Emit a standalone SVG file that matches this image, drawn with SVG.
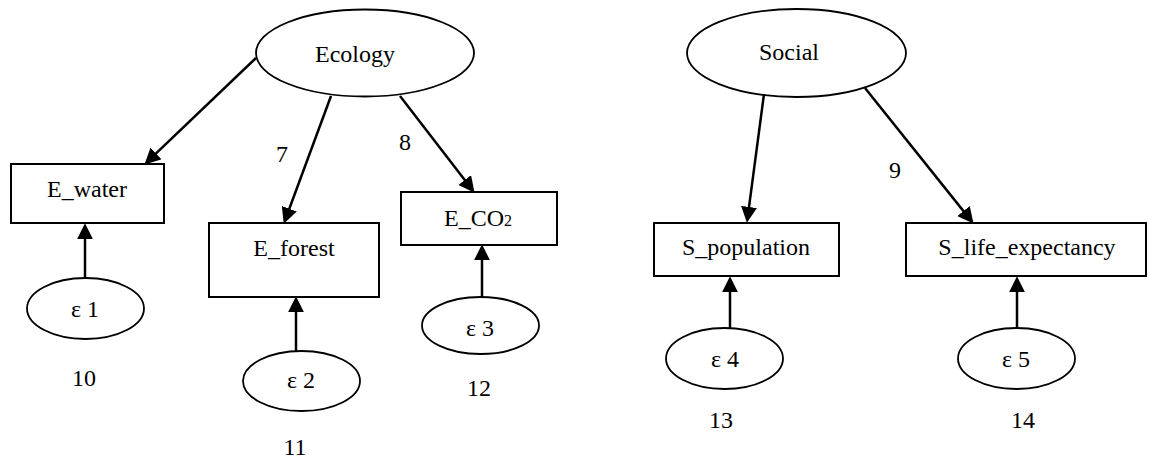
<svg xmlns="http://www.w3.org/2000/svg" width="1149" height="461" viewBox="0 0 1149 461" font-family="Liberation Serif, Times New Roman, DejaVu Serif, serif">
<style>
text{font-family:'Liberation Serif','Times New Roman',Times,'DejaVu Serif',serif;font-size:24px;fill:#000;text-anchor:middle}
.box{fill:#fff;stroke:#000;stroke-width:2}
.ell{fill:#fff;stroke:#000;stroke-width:1.8}
.con line{stroke:#000;stroke-width:2.5;marker-end:url(#ah)}
</style>
<defs>
<marker id="ah" markerUnits="userSpaceOnUse" markerWidth="16" markerHeight="16" viewBox="0 0 15 15" refX="3" refY="7.5" orient="auto">
<path d="M0,0 L15,7.5 L0,15 z" fill="#000"/>
</marker>
</defs>
<rect width="1149" height="461" fill="#fff"/>
<g id="Ecology"><ellipse class="ell" cx="365" cy="53" rx="109" ry="43.5"/><text x="355" y="62">Ecology</text></g>
<g id="Social"><ellipse class="ell" cx="796.5" cy="53" rx="109.5" ry="44"/><text x="789" y="60">Social</text></g>
<g id="E_water"><rect class="box" x="11" y="164" width="153" height="59"/><text x="87" y="197">E_water</text></g>
<g id="E_forest"><rect class="box" x="209" y="223" width="170" height="74"/><text x="294" y="256">E_forest</text></g>
<g id="E_CO2"><rect class="box" x="401" y="192" width="156" height="53"/><text x="478" y="226">E_CO<tspan font-size="16">2</tspan></text></g>
<g id="S_population"><rect class="box" x="654" y="223" width="185" height="53"/><text x="746" y="255">S_population</text></g>
<g id="S_life_expectancy"><rect class="box" x="906" y="223" width="240" height="53"/><text x="1027" y="255">S_life_expectancy</text></g>
<g id="e1"><ellipse class="ell" cx="85.5" cy="308.5" rx="58.5" ry="30.5"/><text x="85" y="317">ε 1</text></g>
<g id="e2"><ellipse class="ell" cx="301.5" cy="381" rx="58.5" ry="30"/><text x="301" y="388">ε 2</text></g>
<g id="e3"><ellipse class="ell" cx="480.5" cy="325.5" rx="58.5" ry="28.5"/><text x="480" y="336">ε 3</text></g>
<g id="e4"><ellipse class="ell" cx="724.5" cy="358.5" rx="58.5" ry="30.5"/><text x="725" y="367">ε 4</text></g>
<g id="e5"><ellipse class="ell" cx="1016.5" cy="358.5" rx="58.5" ry="30.5"/><text x="1016" y="367">ε 5</text></g>
<g id="connectors" class="con">
<line x1="256" y1="58" x2="153.7" y2="155.7"/>
<line x1="331" y1="96" x2="288.2" y2="211.7"/>
<line x1="400" y1="96" x2="466.7" y2="182.5"/>
<line x1="764" y1="94" x2="748.6" y2="210.1"/>
<line x1="865" y1="88" x2="965.5" y2="213.6"/>
<line x1="85" y1="277" x2="85" y2="236"/>
<line x1="296" y1="351" x2="296" y2="309"/>
<line x1="482" y1="297" x2="482" y2="257"/>
<line x1="730" y1="328" x2="730" y2="289"/>
<line x1="1017" y1="328" x2="1017" y2="289"/>
</g>
<g id="labels">
<text x="282" y="162">7</text>
<text x="405" y="150">8</text>
<text x="895" y="178">9</text>
<text x="84" y="386">10</text>
<text x="295" y="455">11</text>
<text x="479" y="396">12</text>
<text x="721" y="428">13</text>
<text x="1023" y="428">14</text>
</g>
</svg>
